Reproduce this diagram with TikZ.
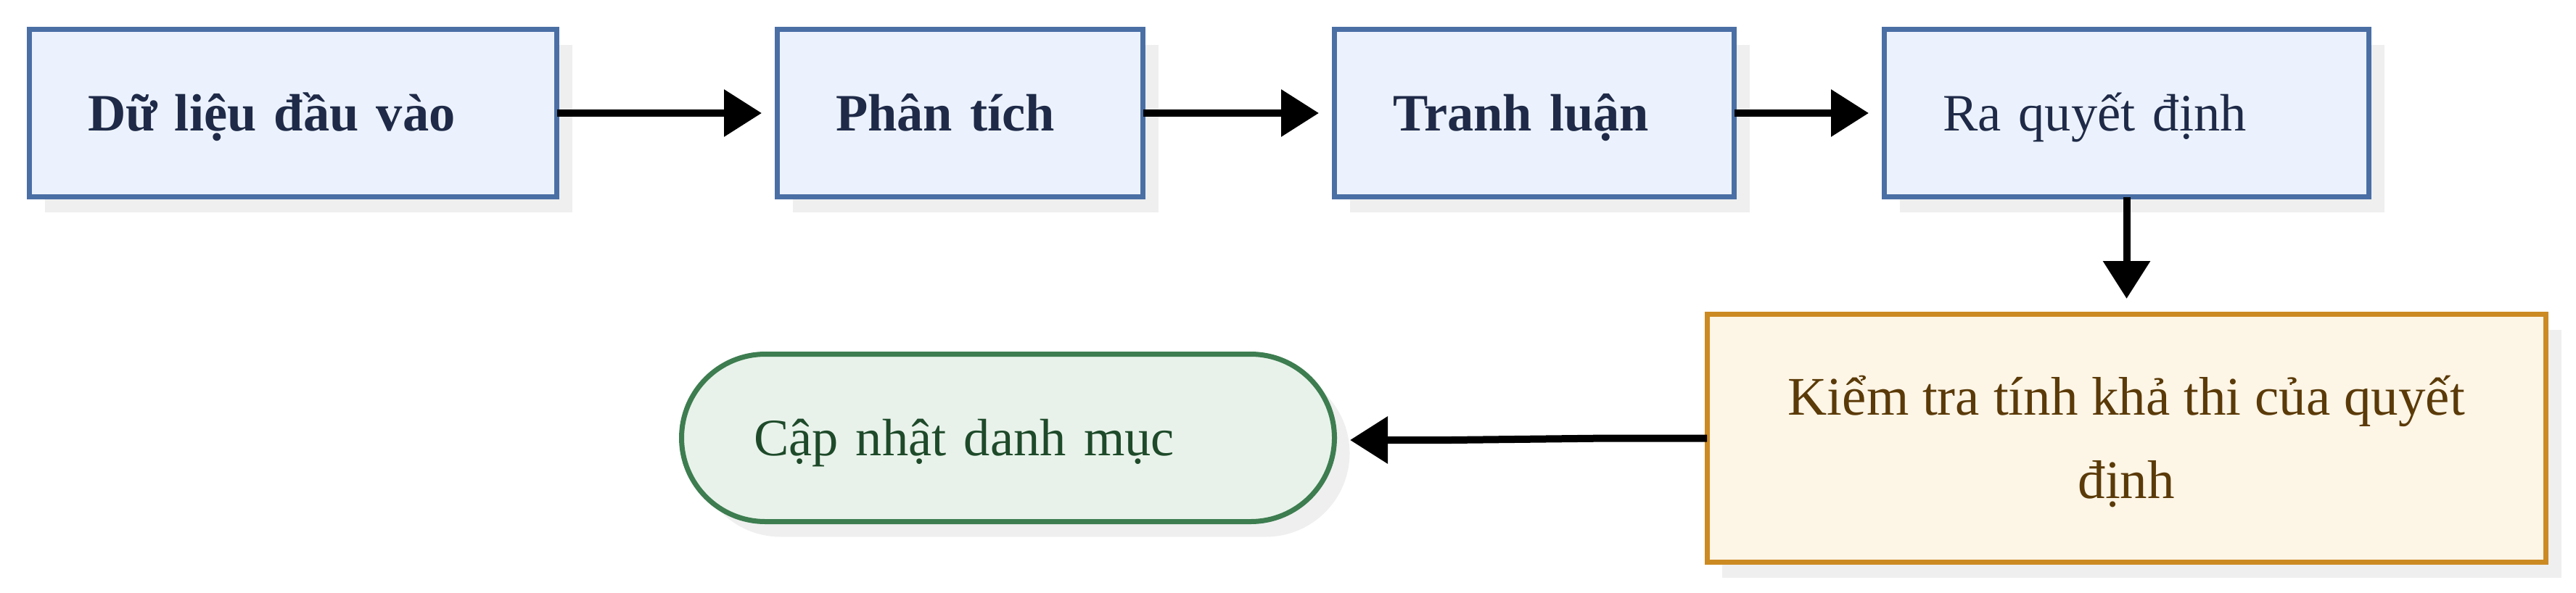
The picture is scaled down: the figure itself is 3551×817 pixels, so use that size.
\documentclass[tikz,border=0pt]{standalone}
\usepackage{fontspec}
\setmainfont{Liberation Serif}
\usetikzlibrary{arrows.meta,shadows,calc}
\definecolor{bluebd}{HTML}{4A6FA5}
\definecolor{bluefill}{HTML}{ECF2FD}
\definecolor{navytext}{HTML}{1E2A47}
\definecolor{orangebd}{HTML}{CC8A23}
\definecolor{orangefill}{HTML}{FDF5E6}
\definecolor{browntext}{HTML}{5A3A08}
\definecolor{greenbd}{HTML}{3D7D50}
\definecolor{greenfill}{HTML}{E8F2EA}
\definecolor{greentext}{HTML}{1E4A2A}
\definecolor{shadowc}{HTML}{EFEFEF}
\begin{document}
\begin{tikzpicture}[x=1pt,y=1pt,
  base/.style={line width=7pt, inner ysep=0pt, outer sep=0pt,
    font=\fontsize{72.5}{115}\selectfont,
    drop shadow={shadow xshift=21pt, shadow yshift=-21pt, fill=shadowc, opacity=1}},
  box/.style={base, draw=bluebd, fill=bluefill, text=navytext, minimum height=231pt,
    inner xsep=80.5pt, align=left, text height=48pt, text depth=0pt},
  boldtext/.style={font=\fontsize{72.5}{115}\selectfont\bfseries},
  checkbox/.style={base, draw=orangebd, fill=orangefill, text=browntext,
    font=\fontsize{75}{115}\selectfont,
    minimum width=1156.5pt, minimum height=342pt, align=center,
    text height=165pt, text depth=0pt},
  endbox/.style={base, draw=greenbd, fill=greenfill, text=greentext, rounded corners=115.5pt,
    minimum height=231pt, inner xsep=99.5pt, text width=701pt, align=left,
    text height=48pt, text depth=0pt},
  conn/.style={line width=10pt, -{Triangle[length=52pt,width=63pt]}, shorten >=21.5pt}
]
\useasboundingbox (0,0) rectangle (3551,-817);
\node[box, boldtext, text width=566pt] (b1) at (404,-156) {Dữ liệu đầu vào};
\node[box, boldtext, text width=343pt] (b2) at (1323.5,-156) {Phân tích};
\node[box, boldtext, text width=390pt] (b3) at (2115,-156) {Tranh luận};
\node[box, text width=507pt] (b4) at (2931.5,-156) {Ra quyết định};
\node[checkbox] (o) at (2931.25,-604.5) {Kiểm tra tính khả thi của quyết\\định};
\node[endbox] (s) at (1389.5,-604) {Cập nhật danh mục};
\draw[conn] (b1.east) -- (b2.west);
\draw[conn] (b2.east) -- (b3.west);
\draw[conn] (b3.east) -- (b4.west);
\draw[conn] (b4.south) -- (b4.south |- o.north);
\draw[conn] (o.west) -- ++(-136,0) -- ++(-217,-2.5) -- ([yshift=-2.5pt]o.west -| s.east);
\end{tikzpicture}
\end{document}
